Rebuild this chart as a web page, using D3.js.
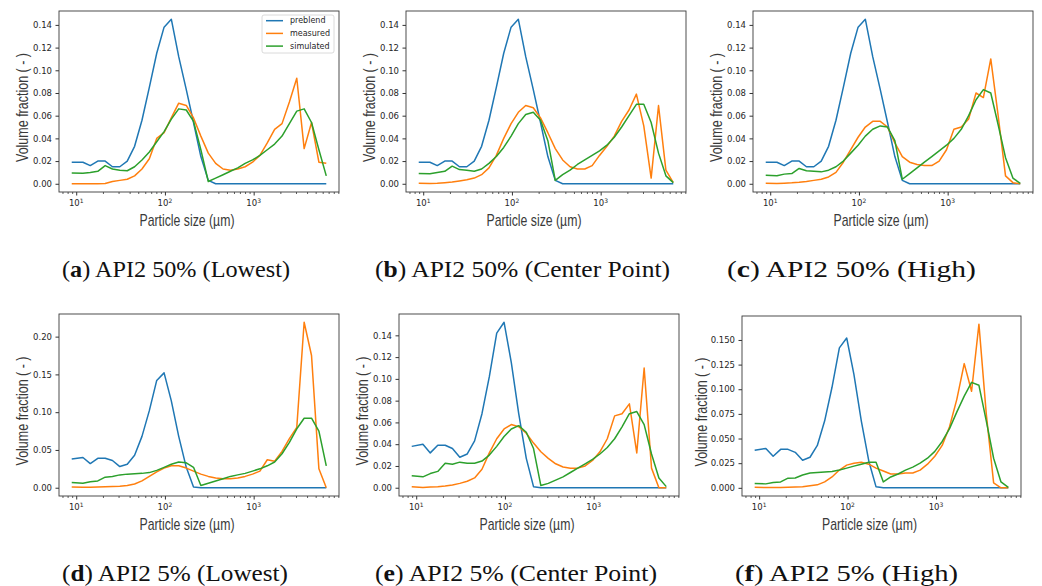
<!DOCTYPE html>
<html>
<head>
<meta charset="utf-8">
<script src="https://cdn.jsdelivr.net/npm/d3@7/dist/d3.min.js"></script>
<style>
body { margin: 0; background: #fff; }
svg text { font-family: "DejaVu Sans", sans-serif; }
</style>
</head>
<body>
<svg id="fig" width="1042" height="586"></svg>
<script>
// particle size classes (µm), shared by all six panels
const sizes = [8.9, 11.9, 14.4, 17.5, 21.2, 25.6, 31.0, 37.6, 45.5, 55.1,
    66.7, 80.8, 97.8, 118, 143, 174, 210, 254, 308, 373,
    452, 547, 662, 802, 971, 1176, 1424, 1724, 2088, 2528,
    3062, 3708, 4490, 5437, 6584];

// preblend distributions
const preblend50 = [0.019, 0.019, 0.016, 0.020, 0.020, 0.015, 0.015, 0.020, 0.033, 0.056,
    0.085, 0.115, 0.138, 0.145, 0.112, 0.083, 0.054, 0.024, 0.003, 0,
    0, 0, 0, 0, 0, 0, 0, 0, 0, 0,
    0, 0, 0, 0, 0];
const preblend5 = [0.038, 0.040, 0.032, 0.039, 0.039, 0.036, 0.028, 0.031, 0.043, 0.068,
    0.102, 0.142, 0.152, 0.115, 0.068, 0.027, 0.001, 0, 0, 0,
    0, 0, 0, 0, 0, 0, 0, 0, 0, 0,
    0, 0, 0, 0, 0];

// (a) API2 50% lowest
const measuredA = [0, 0, 0, 0, 0.0002, 0.002, 0.003, 0.004, 0.007, 0.013,
    0.022, 0.040, 0.045, 0.058, 0.071, 0.069, 0.058, 0.042, 0.027, 0.018,
    0.013, 0.012, 0.013, 0.015, 0.019, 0.025, 0.036, 0.048, 0.053, 0.072,
    0.093, 0.031, 0.054, 0.019, 0.018];
const simulatedA = [0.0095, 0.0093, 0.010, 0.011, 0.016, 0.013, 0.012, 0.0115, 0.015, 0.021,
    0.028, 0.037, 0.046, 0.057, 0.066, 0.065, 0.055, 0.030, 0.002, 0.005,
    0.008, 0.011, 0.014, 0.018, 0.021, 0.025, 0.030, 0.035, 0.042, 0.053,
    0.064, 0.066, 0.054, 0.030, 0.007];

// (b) API2 50% center point
const measuredB = [0.0005, 0.0002, 0.0005, 0.001, 0.0015, 0.0025, 0.0035, 0.005, 0.008, 0.014,
    0.025, 0.040, 0.053, 0.063, 0.069, 0.067, 0.058, 0.045, 0.031, 0.021,
    0.015, 0.013, 0.013, 0.016, 0.025, 0.033, 0.042, 0.055, 0.065, 0.079,
    0.051, 0.005, 0.069, 0.012, 0.001];
const simulatedB = [0.009, 0.0088, 0.010, 0.011, 0.0155, 0.0125, 0.012, 0.011, 0.013, 0.018,
    0.024, 0.032, 0.042, 0.053, 0.061, 0.063, 0.056, 0.038, 0.003, 0.008,
    0.012, 0.017, 0.021, 0.025, 0.029, 0.034, 0.041, 0.050, 0.060, 0.070,
    0.070, 0.054, 0.027, 0.007, 0.001];

// (c) API2 50% high
const measuredC = [0.0005, 0.0003, 0.0005, 0.0008, 0.0013, 0.002, 0.003, 0.004, 0.006, 0.010,
    0.019, 0.030, 0.041, 0.050, 0.055, 0.055, 0.050, 0.036, 0.024, 0.019,
    0.017, 0.016, 0.016, 0.020, 0.030, 0.048, 0.050, 0.057, 0.080, 0.076,
    0.110, 0.060, 0.007, 0.001, 0];
const simulatedC = [0.0075, 0.007, 0.0085, 0.009, 0.0135, 0.0115, 0.011, 0.0105, 0.012, 0.015,
    0.020, 0.027, 0.034, 0.042, 0.048, 0.051, 0.050, 0.038, 0.004, 0.009,
    0.014, 0.019, 0.024, 0.029, 0.034, 0.040, 0.048, 0.060, 0.074, 0.083,
    0.080, 0.052, 0.023, 0.005, 0.0003];

// (d) API2 5% lowest
const measuredD = [0.001, 0.0005, 0.0007, 0.001, 0.0012, 0.0015, 0.002, 0.003, 0.005, 0.009,
    0.015, 0.021, 0.026, 0.029, 0.029, 0.026, 0.022, 0.018, 0.015, 0.013,
    0.012, 0.012, 0.013, 0.015, 0.018, 0.022, 0.037, 0.035, 0.048, 0.065,
    0.080, 0.219, 0.175, 0.025, 0];
const simulatedD = [0.007, 0.006, 0.008, 0.009, 0.014, 0.015, 0.017, 0.018, 0.0185, 0.019,
    0.020, 0.023, 0.027, 0.031, 0.034, 0.033, 0.027, 0.003, 0.006, 0.009,
    0.012, 0.015, 0.017, 0.019, 0.022, 0.025, 0.029, 0.034, 0.045, 0.060,
    0.078, 0.092, 0.092, 0.075, 0.029];

// (e) API2 5% center point
const measuredE = [0.001, 0.0003, 0.0007, 0.001, 0.0015, 0.0025, 0.004, 0.006, 0.009, 0.017,
    0.032, 0.045, 0.054, 0.058, 0.056, 0.050, 0.041, 0.033, 0.027, 0.022,
    0.019, 0.018, 0.018, 0.020, 0.025, 0.033, 0.045, 0.066, 0.068, 0.077,
    0.032, 0.110, 0.018, 0, 0];
const simulatedE = [0.011, 0.010, 0.013, 0.015, 0.0225, 0.0215, 0.0235, 0.0225, 0.0225, 0.0245,
    0.030, 0.038, 0.047, 0.054, 0.057, 0.051, 0.036, 0.002, 0.004, 0.007,
    0.010, 0.014, 0.018, 0.022, 0.026, 0.031, 0.037, 0.045, 0.056, 0.068,
    0.070, 0.058, 0.031, 0.009, 0.001];

// (f) API2 5% high
const measuredF = [0.0005, 0.0003, 0.0003, 0.0004, 0.0006, 0.0008, 0.001, 0.002, 0.003, 0.006,
    0.011, 0.018, 0.023, 0.025, 0.026, 0.024, 0.020, 0.017, 0.014, 0.014,
    0.015, 0.015, 0.018, 0.024, 0.032, 0.043, 0.062, 0.090, 0.126, 0.098,
    0.166, 0.075, 0.005, 0, 0];
const simulatedF = [0.0045, 0.004, 0.0055, 0.006, 0.0098, 0.010, 0.013, 0.015, 0.0155, 0.016,
    0.0165, 0.018, 0.020, 0.022, 0.024, 0.026, 0.026, 0.006, 0.011, 0.014,
    0.018, 0.021, 0.025, 0.030, 0.037, 0.047, 0.060, 0.077, 0.093, 0.107,
    0.104, 0.068, 0.030, 0.006, 0.0005];

const seriesNames = ['preblend', 'measured', 'simulated'];
const xTicks = [10, 100, 1000];
const yTicks50 = [0, 0.02, 0.04, 0.06, 0.08, 0.10, 0.12, 0.14];
const yTicksD = [0, 0.05, 0.10, 0.15, 0.20];
const yTicksF = [0, 0.025, 0.05, 0.075, 0.10, 0.125, 0.15];
const captionLetters = ['a', 'b', 'c', 'd', 'e', 'f'];
const captionTexts = [') API2 50% (Lowest)', ') API2 50% (Center Point)', ') API2 50% (High)',
    ') API2 5% (Lowest)', ') API2 5% (Center Point)', ') API2 5% (High)'];

const colors = ['#1f77b4', '#ff7f0e', '#2ca02c'];

// layout of each panel (axes box in page pixels) and its caption
const panels = [
    {left: 59, top: 11, w: 280, h: 181, data: [preblend50, measuredA, simulatedA], yTicks: yTicks50, fmt: '.2f', legend: true, cx: 62, cy: 277, cw: 228},
    {left: 406, top: 11, w: 280, h: 181, data: [preblend50, measuredB, simulatedB], yTicks: yTicks50, fmt: '.2f', cx: 375, cy: 277, cw: 295},
    {left: 753, top: 11, w: 280, h: 181, data: [preblend50, measuredC, simulatedC], yTicks: yTicks50, fmt: '.2f', cx: 727, cy: 277, cw: 249},
    {left: 59, top: 314, w: 280, h: 182, data: [preblend5, measuredD, simulatedD], yTicks: yTicksD, fmt: '.2f', cx: 62, cy: 581, cw: 226},
    {left: 399, top: 314, w: 280, h: 182, data: [preblend5, measuredE, simulatedE], yTicks: yTicks50, fmt: '.2f', cx: 375, cy: 581, cw: 282},
    {left: 742, top: 316, w: 279, h: 180, data: [preblend5, measuredF, simulatedF], yTicks: yTicksF, fmt: '.3f', ylabOff: 41, cx: 735, cy: 581, cw: 223}
];

const svg = d3.select('#fig');

panels.forEach((p, i) => drawPanel(p, i));

function drawPanel(p, i) {
    let g = svg.append('g')
        .attr('transform', `translate(${p.left}, ${p.top})`);

    // matplotlib style autoscale: 5% margins
    let all = [].concat(...p.data);
    let [lo, hi] = d3.extent(all);
    let yPad = (hi - lo) * 0.05;
    let y = d3.scaleLinear()
        .domain([lo - yPad, hi + yPad])
        .range([p.h, 0]);

    let lx = d3.extent(sizes).map(Math.log10);
    let xPad = (lx[1] - lx[0]) * 0.05;
    let x = d3.scaleLog()
        .domain([Math.pow(10, lx[0] - xPad), Math.pow(10, lx[1] + xPad)])
        .range([0, p.w]);

    let line = d3.line()
        .x((d, k) => x(sizes[k]))
        .y(d => y(d));

    g.selectAll('.series')
        .data(p.data)
        .enter().append('path')
        .attr('class', 'series')
        .attr('d', d => line(d))
        .attr('fill', 'none')
        .attr('stroke', (d, k) => colors[k])
        .attr('stroke-width', 1.5)
        .attr('stroke-linejoin', 'round');

    // y axis
    let yAxis = g.append('g')
        .call(d3.axisLeft(y).tickValues(p.yTicks).tickFormat(d3.format(p.fmt)).tickSize(3.5).tickPadding(3.5));
    yAxis.select('.domain').remove();
    yAxis.selectAll('line').attr('stroke', '#333');
    yAxis.selectAll('text')
        .attr('fill', '#262626')
        .style('font-size', '8.5px')
        .style('font-family', '"DejaVu Sans", sans-serif');

    // x axis: major + minor log ticks
    let minor = x.ticks().filter(t => Math.abs(Math.log10(t) % 1) > 1e-6);
    let xMinor = g.append('g')
        .attr('transform', `translate(0, ${p.h})`)
        .call(d3.axisBottom(x).tickValues(minor).tickSize(2).tickFormat(''));
    xMinor.select('.domain').remove();
    xMinor.selectAll('line').attr('stroke', '#333').attr('stroke-width', 0.8);

    let xAxis = g.append('g')
        .attr('transform', `translate(0, ${p.h})`)
        .call(d3.axisBottom(x).tickValues(xTicks).tickSize(3.5).tickFormat(''));
    xAxis.select('.domain').remove();
    xAxis.selectAll('line').attr('stroke', '#333');

    let xl = g.selectAll('.xtl')
        .data(xTicks)
        .enter().append('text')
        .attr('class', 'xtl')
        .attr('x', d => x(d))
        .attr('y', p.h + 14)
        .attr('text-anchor', 'middle')
        .attr('fill', '#262626')
        .style('font-size', '8.5px');
    xl.append('tspan').text('10');
    xl.append('tspan')
        .attr('dy', -3.5)
        .style('font-size', '6px')
        .text(d => Math.round(Math.log10(d)));

    // frame
    g.append('rect')
        .attr('width', p.w)
        .attr('height', p.h)
        .attr('fill', 'none')
        .attr('stroke', '#3a3a3a')
        .attr('stroke-width', 0.9);

    // axis labels (the original figure was squeezed sideways)
    g.append('text')
        .attr('transform', `translate(${-(p.ylabOff || 37)}, ${p.h / 2 + 6}) rotate(-90)`)
        .attr('text-anchor', 'middle')
        .attr('dy', '0.35em')
        .attr('fill', '#3a3a3a')
        .attr('textLength', 109)
        .attr('lengthAdjust', 'spacingAndGlyphs')
        .style('font-family', '"Liberation Sans", Arial, sans-serif')
        .style('font-size', '17px')
        .text('Volume fraction ( - )');

    g.append('text')
        .attr('x', p.w / 2 - 12)
        .attr('y', p.h + 34)
        .attr('text-anchor', 'middle')
        .attr('fill', '#3a3a3a')
        .attr('textLength', 95)
        .attr('lengthAdjust', 'spacingAndGlyphs')
        .style('font-family', '"Liberation Sans", Arial, sans-serif')
        .style('font-size', '17px')
        .text('Particle size (\u00b5m)');

    if (p.legend) drawLegend(g, p);

    // caption under the panel
    let cap = svg.append('text')
        .attr('x', p.cx)
        .attr('y', p.cy)
        .attr('fill', '#111')
        .attr('textLength', p.cw)
        .attr('lengthAdjust', 'spacingAndGlyphs')
        .style('font-family', '"Liberation Serif", "Times New Roman", serif')
        .style('font-size', '24px');
    cap.append('tspan').text('(');
    cap.append('tspan').style('font-weight', 'bold').text(captionLetters[i]);
    cap.append('tspan').text(captionTexts[i]);
}

function drawLegend(g, p) {
    let bw = 72, bh = 38;
    let lg = g.append('g')
        .attr('transform', `translate(${p.w - 5 - bw}, 4)`);
    lg.append('rect')
        .attr('width', bw)
        .attr('height', bh)
        .attr('rx', 2)
        .attr('fill', '#fff')
        .attr('fill-opacity', 0.8)
        .attr('stroke', '#d0d0d0')
        .attr('stroke-width', 0.8);
    let row = lg.selectAll('.lrow')
        .data(seriesNames)
        .enter().append('g')
        .attr('class', 'lrow')
        .attr('transform', (d, k) => `translate(4, ${5.7 + k * 12.7})`);
    row.append('line')
        .attr('x1', 0)
        .attr('x2', 17)
        .attr('stroke', (d, k) => colors[k])
        .attr('stroke-width', 1.5);
    row.append('text')
        .attr('x', 24)
        .attr('dy', '0.32em')
        .attr('fill', '#262626')
        .style('font-size', '8px')
        .text(d => d);
}
</script>
</body>
</html>
